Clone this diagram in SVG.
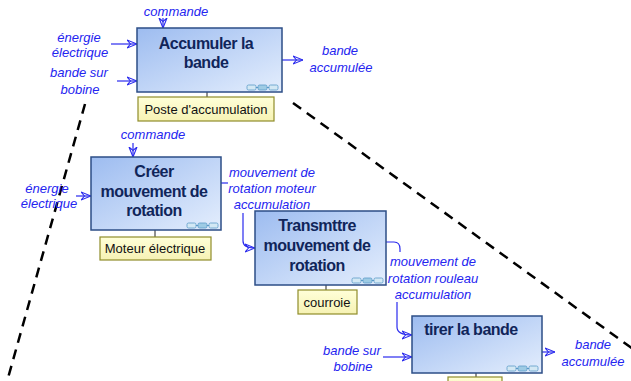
<svg xmlns="http://www.w3.org/2000/svg" width="631" height="381" viewBox="0 0 631 381">
<style>
.box{fill:url(#bg);stroke:#2d4e87;stroke-width:1.5}
.res{fill:url(#yg);stroke:#8f8d2a;stroke-width:1.2}
.tt{font-family:"Liberation Sans",Arial,sans-serif;font-weight:bold;font-size:16px;fill:#10255a;text-anchor:middle;letter-spacing:-0.5px}
.rt{font-family:"Liberation Sans",Arial,sans-serif;font-size:13px;fill:#111;text-anchor:middle}
.lb{font-family:"Liberation Sans",Arial,sans-serif;font-style:italic;font-size:13px;fill:#2424f0;text-anchor:middle}
.cn{fill:none;stroke:#2a2aee;stroke-width:1.2}
.ar{marker-end:url(#arr)}
.stub{stroke:#222;stroke-width:1}
.dash{stroke:#000;stroke-width:2.5;stroke-dasharray:10 7;fill:none}
</style>
<defs>
<linearGradient id="bg" x1="0" y1="0" x2="1" y2="1">
<stop offset="0" stop-color="#9dbcf0"/>
<stop offset="1" stop-color="#e4eefd"/>
</linearGradient>
<linearGradient id="yg" x1="0" y1="0" x2="0" y2="1">
<stop offset="0" stop-color="#ffffd8"/>
<stop offset="1" stop-color="#f6f2b4"/>
</linearGradient>
<marker id="arr" viewBox="0 0 10 10" refX="10" refY="5" markerWidth="10" markerHeight="10" markerUnits="userSpaceOnUse" orient="auto">
<path d="M0,1 L10,5 L0,9 L3.5,5 Z" fill="none" stroke="#2a2aee" stroke-width="1.1"/>
</marker>
<g id="icon">
<line x1="9" y1="2.5" x2="22" y2="2.5" stroke="#5a9ac8" stroke-width="1"/>
<rect x="0" y="0" width="9" height="5" rx="1.5" fill="#d3e8f4" stroke="#5a9ac8" stroke-width="0.8"/>
<rect x="11" y="0" width="9" height="5" rx="1.5" fill="#9ecbe4" stroke="#5a9ac8" stroke-width="0.8"/>
<rect x="22" y="0" width="9" height="5" rx="1.5" fill="#d3e8f4" stroke="#5a9ac8" stroke-width="0.8"/>
</g>
</defs>
<rect width="631" height="381" fill="#fff"/>

<g id="dashed-lines">
<line class="dash" x1="85" y1="104" x2="8" y2="378"/>
<line class="dash" x1="293" y1="103" x2="633" y2="349"/>
</g>

<g id="connectors">
<line class="cn ar" x1="163" y1="18" x2="163" y2="28"/>
<line class="cn ar" x1="111" y1="44" x2="137" y2="44"/>
<line class="cn ar" x1="117" y1="81" x2="137" y2="81"/>
<line class="cn ar" x1="282" y1="60" x2="303" y2="60"/>
<line class="cn ar" x1="133" y1="143" x2="133" y2="157"/>
<line class="cn ar" x1="76" y1="196" x2="91" y2="196"/>
<path class="cn" d="M221,183 H228"/>
<path class="cn ar" d="M243,213 V241 Q243,248 255,248"/>
<path class="cn" d="M386,242 H394 Q400,242 400,249 V252"/>
<path class="cn ar" d="M397,302 V327 Q397,335 412,335"/>
<line class="cn ar" x1="383" y1="357" x2="412" y2="357"/>
<line class="cn ar" x1="542" y1="352" x2="555" y2="352"/>
<line class="stub" x1="207" y1="92" x2="207" y2="97"/>
<line class="stub" x1="155" y1="230" x2="155" y2="237"/>
<line class="stub" x1="326" y1="285" x2="326" y2="290"/>
<line class="stub" x1="476" y1="373" x2="476" y2="377"/>
</g>

<g id="labels">
<text class="lb" x="176" y="16">commande</text>
<text class="lb" x="79" y="42">énergie</text>
<text class="lb" x="80" y="57">électrique</text>
<text class="lb" x="79" y="77">bande sur</text>
<text class="lb" x="80" y="94">bobine</text>
<text class="lb" x="340" y="55">bande</text>
<text class="lb" x="341" y="72">accumulée</text>
<text class="lb" x="153" y="139">commande</text>
<text class="lb" x="47" y="193">énergie</text>
<text class="lb" x="49" y="208">électrique</text>
<text class="lb" x="272" y="177">mouvement de</text>
<text class="lb" x="272" y="193">rotation moteur</text>
<text class="lb" x="272" y="209">accumulation</text>
<text class="lb" x="433" y="266">mouvement de</text>
<text class="lb" x="433" y="283">rotation rouleau</text>
<text class="lb" x="433" y="299">accumulation</text>
<text class="lb" x="352" y="355">bande sur</text>
<text class="lb" x="353" y="371">bobine</text>
<text class="lb" x="593" y="349">bande</text>
<text class="lb" x="593" y="366">accumulée</text>
</g>

<g id="node-accumuler">
<rect class="box" x="137" y="28" width="145" height="64"/>
<text class="tt" x="206" y="49">Accumuler la</text>
<text class="tt" x="206" y="68">bande</text>
<use href="#icon" x="247" y="85"/>
</g>
<g id="res-poste">
<rect class="res" x="138" y="97" width="136" height="24"/>
<text class="rt" x="206" y="114">Poste d'accumulation</text>
</g>

<g id="node-creer">
<rect class="box" x="91" y="157" width="130" height="73"/>
<text class="tt" x="154" y="177">Créer</text>
<text class="tt" x="154" y="197">mouvement de</text>
<text class="tt" x="154" y="216">rotation</text>
<use href="#icon" x="187" y="223"/>
</g>
<g id="res-moteur">
<rect class="res" x="100" y="237" width="111" height="23"/>
<text class="rt" x="155" y="253">Moteur électrique</text>
</g>

<g id="node-transmettre">
<rect class="box" x="255" y="211" width="131" height="74"/>
<text class="tt" x="317" y="231">Transmttre</text>
<text class="tt" x="317" y="251">mouvement de</text>
<text class="tt" x="317" y="271">rotation</text>
<use href="#icon" x="352" y="278"/>
</g>
<g id="res-courroie">
<rect class="res" x="298" y="290" width="59" height="24"/>
<text class="rt" x="327" y="307">courroie</text>
</g>

<g id="node-tirer">
<rect class="box" x="412" y="316" width="130" height="57"/>
<text class="tt" x="471" y="335">tirer la bande</text>
<use href="#icon" x="507" y="366"/>
</g>
<g id="res-tirer">
<rect class="res" x="448" y="377" width="54" height="10"/>
</g>
</svg>
